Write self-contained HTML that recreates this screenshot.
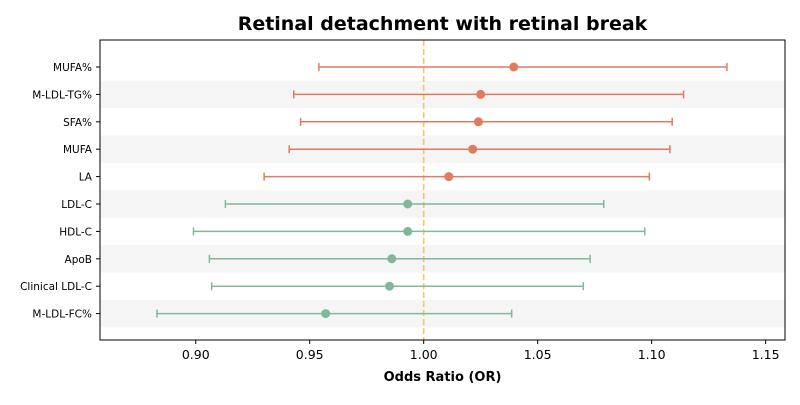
<!DOCTYPE html>
<html><head><meta charset="utf-8"><style>
body{margin:0;background:#fff;}
svg text{font-family:"DejaVu Sans","Liberation Sans",sans-serif;}
</style></head><body>
<svg id="chart" width="800" height="400"></svg>
<script>
const labels=["MUFA%","M-LDL-TG%","SFA%","MUFA","LA","LDL-C","HDL-C","ApoB","Clinical LDL-C","M-LDL-FC%"];
const orVals=[1.0395,1.025,1.024,1.0215,1.011,0.993,0.993,0.986,0.985,0.957];
const lowVals=[0.954,0.943,0.946,0.941,0.930,0.913,0.899,0.906,0.907,0.883];
const highVals=[1.133,1.114,1.109,1.108,1.099,1.079,1.097,1.073,1.070,1.0386];
const ticks=[0.90,0.95,1.00,1.05,1.10,1.15];
const NS="http://www.w3.org/2000/svg";
const svg=document.getElementById('chart');
const L=100,R=785,T=40,B=340;
const xmin=0.858,xmax=1.1585;
const x=v=>L+(v-xmin)/(xmax-xmin)*(R-L);
const y=i=>67+i*27.4;
function mk(tag,attrs,parent){const e=document.createElementNS(NS,tag);for(const k in attrs)e.setAttribute(k,attrs[k]);(parent||svg).appendChild(e);return e;}
labels.forEach((l,i)=>{if(i%2===1){const b=mk('rect',{x:L,y:y(i)-13.7,width:R-L,height:27.4,fill:'#f5f5f5'});

}});
const ref=mk('line',{x1:x(1),x2:x(1),y1:T,y2:B,stroke:'#f5c36b','stroke-width':1.6,'stroke-dasharray':'6,3'});


labels.forEach((l,i)=>{
 const c=orVals[i]>1?'#e07b5f':'#80b89b';
 const g=mk('g',{});
 
 
 mk('line',{x1:x(lowVals[i]),x2:x(highVals[i]),y1:y(i),y2:y(i),stroke:c,'stroke-width':1.5},g);
 mk('line',{x1:x(lowVals[i]),x2:x(lowVals[i]),y1:y(i)-4,y2:y(i)+4,stroke:c,'stroke-width':1.5},g);
 mk('line',{x1:x(highVals[i]),x2:x(highVals[i]),y1:y(i)-4,y2:y(i)+4,stroke:c,'stroke-width':1.5},g);
 mk('circle',{cx:x(orVals[i]),cy:y(i),r:4.5,fill:c},g);
 const t=mk('text',{x:L-8,y:y(i)+4,'text-anchor':'end','font-size':10.5,fill:'#000'});
 t.textContent=l;
 
 
 mk('line',{x1:L-4,x2:L,y1:y(i),y2:y(i),stroke:'#000'});
});
const frame=mk('rect',{x:L,y:T,width:R-L,height:B-T,fill:'none',stroke:'#000','stroke-width':1});


ticks.forEach(v=>{
 mk('line',{x1:x(v),x2:x(v),y1:B,y2:B+4,stroke:'#000'});
 const t=mk('text',{x:x(v),y:B+19,'text-anchor':'middle','font-size':12.5,fill:'#000'});
 t.textContent=v.toFixed(2);
 
 
});
const xt=mk('text',{x:(L+R)/2,y:381,'text-anchor':'middle','font-size':13,'font-weight':'bold'});
xt.textContent='Odds Ratio (OR)';


const tt=mk('text',{x:(L+R)/2,y:30,'text-anchor':'middle','font-size':19,'font-weight':'bold'});
tt.textContent='Retinal detachment with retinal break';


</script>
</body></html>
